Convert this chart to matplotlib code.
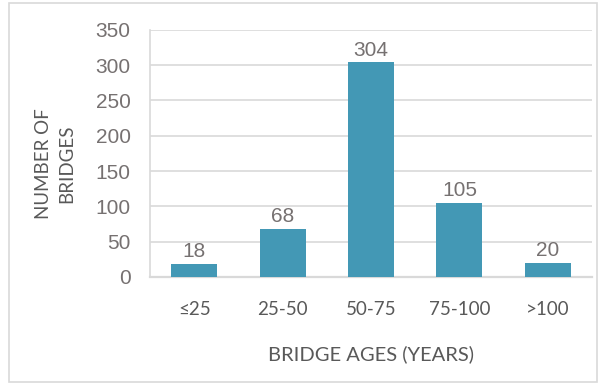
import matplotlib
matplotlib.use('Agg')
import matplotlib.pyplot as plt
from matplotlib.font_manager import fontManager
from matplotlib.patches import Rectangle

# data
categories = ['≤25', '25-50', '50-75', '75-100', '>100']
counts = [18, 68, 304, 105, 20]
y_ticks = [0, 50, 100, 150, 200, 250, 300, 350]

names = set(f.name for f in fontManager.ttflist)
num_font = 'Liberation Sans Narrow' if 'Liberation Sans Narrow' in names else 'Liberation Sans'
txt_font = 'Lato'

bar_color = '#4398b5'
num_color = '#767171'
txt_color = '#595959'
grid_color = '#d9d9d9'

fig = plt.figure(figsize=(5.98, 3.83), dpi=100)
ax = fig.add_axes([0.251, 0.277, 0.739, 0.645])

x = list(range(len(categories)))
ax.bar(x, counts, width=0.52, color=bar_color, zorder=3)

for xi, v in zip(x, counts):
    ax.text(xi, v + 4, str(v), ha='center', va='bottom', fontsize=15,
            family=num_font, color=num_color)

ax.set_xlim(-0.5, len(categories) - 0.5)
ax.set_ylim(0, 350)
ax.set_yticks(y_ticks)
ax.set_xticks(x)
ax.set_xticklabels(categories, family=txt_font, fontsize=13.5, color=txt_color)
ax.set_yticklabels([str(t) for t in y_ticks], family=num_font, fontsize=15, color=num_color)
ax.tick_params(axis='both', length=0)
ax.tick_params(axis='x', pad=17)
ax.tick_params(axis='y', pad=14)

ax.grid(axis='y', color=grid_color, linewidth=1.2, zorder=0)
for s in ['top', 'right']:
    ax.spines[s].set_visible(False)
ax.spines['left'].set_color(grid_color)
ax.spines['left'].set_linewidth(1.2)
ax.spines['bottom'].set_color(grid_color)
ax.spines['bottom'].set_linewidth(1.6)

ax.set_xlabel('BRIDGE AGES (YEARS)', family=txt_font, fontsize=14.5, color=txt_color, labelpad=20)
fig.text(0.092, 0.572, 'NUMBER OF\nBRIDGES', rotation=90, ha='center', va='center',
         family=txt_font, fontsize=13.5, color=txt_color, multialignment='center',
         linespacing=1.5)

fig.patches.append(Rectangle((9 / 598, 1 / 383), 588 / 598, 379 / 383, transform=fig.transFigure,
                             fill=False, edgecolor='#d9d9d9', linewidth=1.2))

fig.savefig('out.png', dpi=100)
